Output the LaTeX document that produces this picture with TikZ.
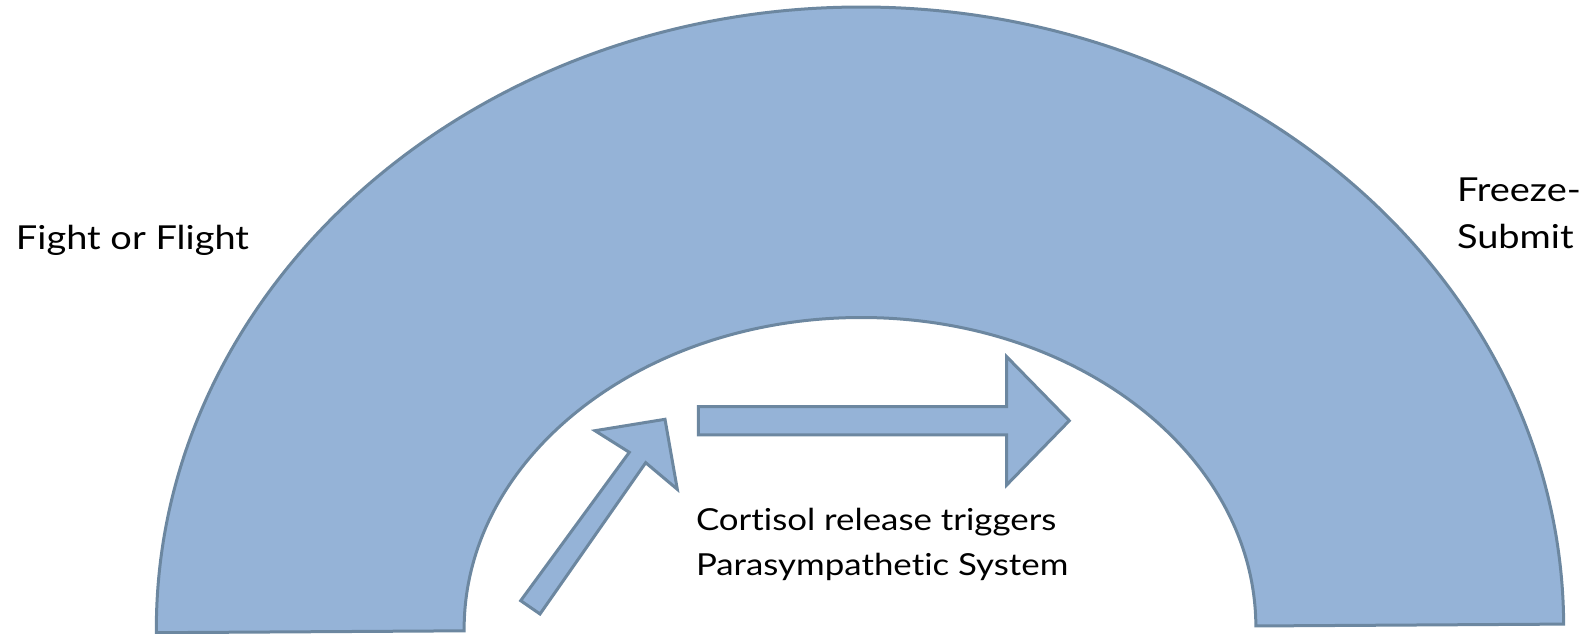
\documentclass[tikz,border=0pt]{standalone}
\usepackage{fontspec}
\setmainfont{Lato}[Ligatures=NoCommon, FakeStretch=1.15]
\usetikzlibrary{positioning}
\definecolor{archfill}{HTML}{95B3D7}
\definecolor{archline}{HTML}{6C87A0}

\begin{document}
\begin{tikzpicture}[x=1pt,y=1pt,
      every node/.style={inner sep=0pt, outer sep=0pt, anchor=base west},
      sidetext/.style={font=\fontsize{33}{45}\selectfont},
      notetext/.style={font=\fontsize{30.3}{45}\selectfont},
      blockshape/.style={fill=archfill, draw=archline, line width=3pt}]
  \useasboundingbox (0,0) rectangle (1593,634);
  % half ring
  \begin{scope}[shift={(860,5.6)}, rotate=0.35]
    \draw[blockshape] (-703.7,0) arc[start angle=180, end angle=0, x radius=703.7, y radius=621.4]
      -- (395.9,0) arc[start angle=0, end angle=180, x radius=395.9, y radius=310.9] -- cycle;
  \end{scope}
  % rising arrow
  \draw[blockshape] (520.7,33.3) -- (629.3,181.7) -- (595,203.3) -- (665,214.7)
    -- (677.3,144.7) -- (645.7,171.3) -- (540,20) -- cycle;
  % straight arrow
  \draw[blockshape] (698.3,227.3) -- (1006.7,227.3) -- (1006.7,277.3) -- (1069.3,213.3)
    -- (1006.7,149) -- (1006.7,199) -- (698.3,199) -- cycle;
  % labels
  \node[sidetext] (fight) at (16,384) {Fight or Flight};
  \node[sidetext] (freeze) at (1457,432.3) {Freeze-};
  \node[sidetext] (submit) at ([yshift=-47pt]freeze.base west) {Submit};
  \node[notetext] (cortisol) at (696,103) {Cortisol release triggers};
  \node[notetext] (para) at ([yshift=-45pt]cortisol.base west) {Parasympathetic System};
\end{tikzpicture}
\end{document}
